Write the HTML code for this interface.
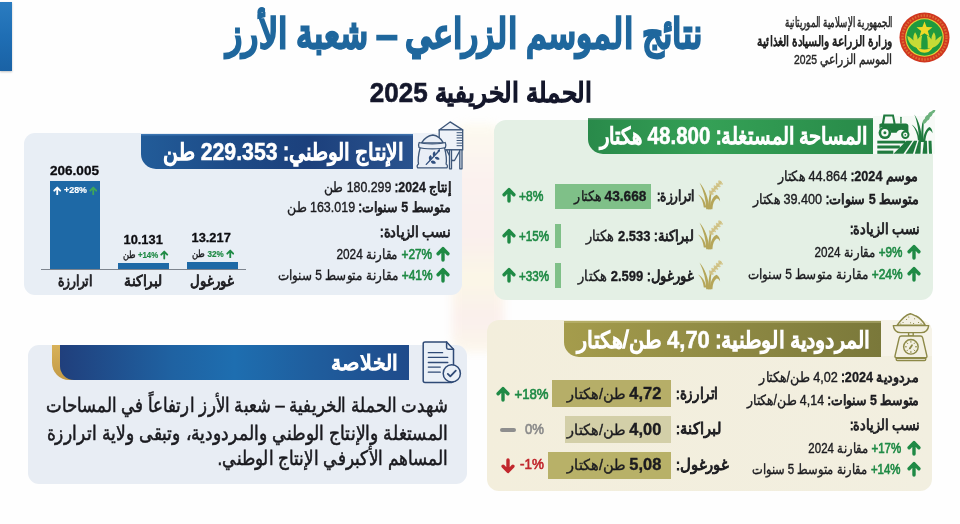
<!DOCTYPE html>
<html lang="ar">
<head>
<meta charset="utf-8">
<title>نتائج الموسم الزراعي – شعبة الأرز</title>
<style>
*{box-sizing:border-box;margin:0;padding:0}
html,body{width:960px;height:524px;overflow:hidden;background:#fefefe}
body{position:relative;font-family:"Liberation Sans",sans-serif;color:#1b1b1f}
.a{position:absolute}
.t{position:absolute;white-space:nowrap;direction:rtl;transform-origin:100% 50%;color:#1b1b1f;-webkit-text-stroke:.38px}
.t b{font-weight:normal;-webkit-text-stroke:.06em}
.t b .n{font-weight:bold;-webkit-text-stroke:.022em}
.p{-webkit-text-stroke:.65px}
.d{font-size:1.05em;letter-spacing:.06em}
.d2{font-size:1.13em;letter-spacing:.04em}
.ar{position:absolute;display:block}
.panel{position:absolute}
</style>
</head>
<body>
<!-- faint watermark behind panels -->
<div class="a" style="left:452px;top:124px;width:52px;height:228px;background:linear-gradient(180deg,#fcf8e6 0%,#faebe6 22%,#f9e6e2 50%,#faf3d8 68%,#f9e6e1 85%,#fbf3e0 100%);opacity:.6;border-radius:14px;filter:blur(4px)"></div>
<!-- left blue tab -->
<div class="a" style="left:0;top:2px;width:12px;height:69px;background:linear-gradient(180deg,#2a7cc0 0%,#1f6eb4 50%,#1a62a5 100%);box-shadow:0 1px 2px rgba(0,0,0,.25)"></div>

<!-- ============ GREEN PANEL ============ -->
<div class="panel" style="left:494px;top:120px;width:438.5px;height:179.5px;border-radius:12px;background:#e4f0e5"></div>
<div class="a" style="left:588px;top:117.5px;width:285px;height:36.5px;border-radius:0 0 0 15px;background:linear-gradient(90deg,#298a4a 0%,#35a056 42%,#319a52 60%,#288a49 100%);box-shadow:inset 0 1.5px 0 rgba(120,160,135,.7)"></div>
<div class="a" style="left:873px;top:116px;width:62px;height:38px;background:#f7faf7"></div>
<div class="a" style="left:554.5px;top:184px;width:96.5px;height:25px;background:#7fc088"></div>
<div class="a" style="left:555px;top:224px;width:5.5px;height:23.5px;background:#7fc088"></div>
<div class="a" style="left:555px;top:263px;width:5.5px;height:24.5px;background:#7fc088"></div>

<!-- ============ BLUE PANEL ============ -->
<div class="panel" style="left:24px;top:133px;width:438px;height:162px;border-radius:11px;background:#e8eef5"></div>
<div class="a" style="left:141px;top:133.5px;width:271.5px;height:35.5px;border-radius:0 0 0 15px;background:linear-gradient(90deg,#225c99 0%,#1d4a86 35%,#1c407c 62%,#2a538e 100%);box-shadow:inset 0 1.5px 0 rgba(80,140,200,.55)"></div>
<div class="a" style="left:412.5px;top:133px;width:49.500px;height:36px;border-radius:0 11px 0 0;background:#eef2f8"></div>
<!-- chart -->
<div class="a" style="left:49.5px;top:181px;width:50.5px;height:88px;background:#1e69a6"></div>
<div class="a" style="left:118px;top:263px;width:51px;height:6px;background:#1e69a6"></div>
<div class="a" style="left:187px;top:262px;width:50.5px;height:7px;background:#1e69a6"></div>
<div class="a" style="left:41px;top:268.6px;width:205px;height:1.2px;background:#7d848e"></div>

<!-- ============ BEIGE PANEL ============ -->
<div class="panel" style="left:487px;top:320px;width:445px;height:170.5px;border-radius:12px;background:linear-gradient(90deg,#f3eedc 0%,#f2efe0 100%)"></div>
<div class="a" style="left:564px;top:320.5px;width:317px;height:36px;border-radius:0 0 0 15px;background:linear-gradient(90deg,#a59c4c 0%,#8f8a44 50%,#7a783a 100%);box-shadow:inset 0 2px 0 rgba(205,200,140,.4)"></div>
<div class="a" style="left:881px;top:320px;width:51px;height:36px;border-radius:0 12px 0 0;background:#f6f3e8"></div>
<div class="a" style="left:552px;top:380px;width:119px;height:27px;background:#b6ae68"></div>
<div class="a" style="left:565px;top:416px;width:106px;height:26.5px;background:#d3cfa8"></div>
<div class="a" style="left:548px;top:452px;width:123px;height:26.500px;background:#b8b168"></div>
<div class="a" style="left:500px;top:427.900px;width:16px;height:4.100px;border-radius:2.100px;background:#8e8e8e"></div>

<!-- ============ SUMMARY PANEL ============ -->
<div class="panel" style="left:28px;top:345px;width:439px;height:139px;border-radius:11px;background:#e8edf4"></div>
<div class="a" style="left:51.800px;top:344.5px;width:44px;height:35.300px;border-radius:0 0 0 17px;background:linear-gradient(180deg,#d8b25a,#c39a45)"></div>
<div class="a" style="left:59.5px;top:344.5px;width:349.5px;height:35px;border-radius:0 0 0 14px;background:linear-gradient(90deg,#203f7c 0%,#1f62a2 32%,#1e6eb0 50%,#1f5e9e 72%,#1f4b8b 100%)"></div>

<!-- emblem -->
<svg class="a" style="left:899px;top:12px" width="51" height="51" viewBox="0 0 51 51">
  <circle cx="25.5" cy="25.5" r="25" fill="#d0361f"/>
  <circle cx="25.5" cy="25.5" r="22" fill="none" stroke="#e0803a" stroke-width="2.4" stroke-dasharray="1.6 1.4" opacity=".75"/>
  <circle cx="25.5" cy="25.5" r="19.3" fill="#e6d23a"/>
  <circle cx="25.5" cy="25.5" r="18.2" fill="#1f9a3e"/>
  <path d="M25.500 9.500l2.100 5.600 5.900.2-4.700 3.600 1.700 5.700-5-3.400-5 3.400 1.700-5.700-4.700-3.600 5.900-.2z" fill="#efd927"/>
  <path d="M22.300 36.500C14.500 36.500 9 31.500 8.300 24c2.700 1 4.700 2.500 6.200 4.600-.5-3.600 0-6.200 1.600-8.400 1.600 2.100 2.500 4.600 2.500 7.300 1-2.100 2.600-3.600 4.600-4.100-1 3.700-1 8.600-.900 13.100z" fill="#c6db36"/>
  <path d="M28.700 36.500c7.800 0 13.300-5 14-12.500-2.700 1-4.700 2.500-6.200 4.600.5-3.600 0-6.200-1.600-8.400-1.600 2.100-2.500 4.600-2.500 7.300-1-2.100-2.600-3.600-4.600-4.100 1 3.700 1 8.600.900 13.100z" fill="#c6db36"/>
  <path d="M16.500 33c1.600 5.300 4.900 7.700 9 7.700s7.400-2.400 9-7.700c-2.100 3.200-5.300 4.600-9 4.600s-6.900-1.400-9-4.600z" fill="#efd927"/>
</svg>

<!-- tractor / field icon -->
<svg class="a" style="left:877px;top:109px" width="60" height="46" viewBox="0 0 60 46">
  <g fill="#1f7a3e">
    <path d="M6.400 5.600h10.400l1.800 8.800h10.200c1.600 0 2.600 1.100 2.600 2.600v6.800h-2.300a5.300 5.300 0 0 0-9.600 0h-5.300a7.300 7.300 0 0 0-11.800-4.200V15l2.500-.8z"/>
    <path d="M8.300 7.400l-1.200 7h9.400l-1.300-7z" fill="#f6faf6"/>
    <rect x="23.300" y="7.700" width="1.300" height="7" rx=".6"/>
    <circle cx="7.900" cy="23.700" r="6.300"/>
    <circle cx="28.300" cy="25.800" r="4.200"/>
    <rect x=".3" y="31.700" width="28" height="2.800"/>
    <rect x=".3" y="36.500" width="22.500" height="3"/>
    <rect x=".3" y="41.600" width="16" height="3.200"/>
    <path d="M29.500 31.700h6L26.500 44.800h-10z"/>
    <path d="M37 31.700h3.300L36 44.800h-7.500z"/>
    <path d="M41.600 31.700h2.400l-.5 13.100h-5.700z"/>
    <path d="M46.900 31.700h3l.4 13.100h-4.800z"/>
    <path d="M51.500 31.700h3l.5 13.100h-3z"/>
    <path d="M42.200 33C41.800 22.500 40.500 13 37.300 5.600c4.700 6.400 7.400 15.700 7.800 27.400z"/>
    <path d="M44 33c0-7 .5-13.500 1.300-19.500l1.400.5c-.4 6.300-.4 12.500-.100 19z"/>
    <path d="M45.800 33c.7-7.500 3.200-13.500 6.700-15 2 1 3 3.500 3 6.300-1-2.300-2.200-3.300-3.300-3.100-2.200 1.800-3.600 6.300-3.900 11.800z"/>
    <path d="M43 31.500c-1-7-3.500-12.800-8.300-16 3.800 4.200 5.800 9.500 6.300 16z"/>
  </g>
  <circle cx="7.900" cy="23.700" r="3.700" fill="#f6faf6"/><circle cx="7.900" cy="23.700" r="1.500" fill="#1f7a3e"/>
  <circle cx="28.300" cy="25.800" r="2.200" fill="#f6faf6"/><circle cx="28.300" cy="25.800" r=".9" fill="#1f7a3e"/>
  <path d="M45.800 15.200c-.8-2.400.2-4.300 2-5.400.2-2 1.500-3.400 3.200-4 .4-1.700 1.700-2.800 3.300-3.200.8-1.300 2.100-1.900 4.100-1.600-.3 1.800-1.200 3-2.700 3.600-.2 1.700-1.200 2.900-2.800 3.600-.2 1.700-1.200 2.900-2.800 3.600-.7 1.900-2.100 3.100-4.300 3.400z" fill="#6db27d"/>
</svg>

<!-- wheat icons (gold) -->
<svg class="a" style="left:698px;top:178px" width="26" height="32" viewBox="0 0 26 32"><g fill="#b5a659">
  <path d="M8.200 31.200C7.900 22 5.900 13 1.500 4.500c5.500 6.500 9 15.500 9.900 26.700z"/>
  <path d="M8.300 29.500c-1-6-3.500-10.500-8.200-13.100 3.400 3.600 5.200 7.600 5.700 13.100z"/>
  <path d="M10 31.200c.200-6 .8-11.200 2-16.400l1.400.5c-.7 5.200-.8 10.200-.5 15.900z"/>
  <path d="M11.600 31.200c.7-7.200 3.300-12.900 7-14.400 2.300 1.200 3.500 3.700 3.500 6.700-1-2.200-2.300-3.200-3.500-3-2.500 1.800-3.900 5.500-4.200 10.700z"/>
  </g>
  <path d="M13 14.800L24.400 2.300" fill="none" stroke="#cfc184" stroke-width="3.500" stroke-linecap="round" stroke-dasharray=".1 3.300"/>
  <path d="M11.700 13.200L22.200 2M14.800 16L25.300 4.600" fill="none" stroke="#d5c88f" stroke-width="1.700" stroke-linecap="round" stroke-dasharray=".1 3.300"/></svg>
<svg class="a" style="left:698px;top:218px" width="26" height="32" viewBox="0 0 26 32"><g fill="#b5a659">
  <path d="M8.200 31.200C7.900 22 5.900 13 1.500 4.500c5.500 6.500 9 15.500 9.900 26.700z"/>
  <path d="M8.300 29.500c-1-6-3.500-10.500-8.200-13.100 3.400 3.600 5.200 7.600 5.700 13.100z"/>
  <path d="M10 31.200c.200-6 .8-11.200 2-16.400l1.400.5c-.7 5.200-.8 10.200-.5 15.900z"/>
  <path d="M11.600 31.200c.7-7.200 3.300-12.900 7-14.400 2.300 1.200 3.500 3.700 3.500 6.700-1-2.200-2.300-3.200-3.500-3-2.500 1.800-3.900 5.500-4.200 10.700z"/>
  </g>
  <path d="M13 14.800L24.400 2.300" fill="none" stroke="#cfc184" stroke-width="3.500" stroke-linecap="round" stroke-dasharray=".1 3.300"/>
  <path d="M11.700 13.200L22.200 2M14.800 16L25.300 4.600" fill="none" stroke="#d5c88f" stroke-width="1.700" stroke-linecap="round" stroke-dasharray=".1 3.300"/></svg>
<svg class="a" style="left:698px;top:258px" width="26" height="32" viewBox="0 0 26 32"><g fill="#b5a659">
  <path d="M8.200 31.200C7.900 22 5.900 13 1.500 4.500c5.500 6.500 9 15.500 9.900 26.700z"/>
  <path d="M8.300 29.500c-1-6-3.500-10.500-8.200-13.100 3.400 3.600 5.200 7.600 5.700 13.100z"/>
  <path d="M10 31.200c.200-6 .8-11.200 2-16.400l1.400.5c-.7 5.200-.8 10.200-.5 15.900z"/>
  <path d="M11.600 31.200c.7-7.200 3.300-12.900 7-14.400 2.300 1.200 3.500 3.700 3.500 6.700-1-2.200-2.300-3.200-3.500-3-2.500 1.800-3.900 5.500-4.200 10.700z"/>
  </g>
  <path d="M13 14.800L24.400 2.300" fill="none" stroke="#cfc184" stroke-width="3.500" stroke-linecap="round" stroke-dasharray=".1 3.300"/>
  <path d="M11.700 13.200L22.200 2M14.800 16L25.300 4.600" fill="none" stroke="#d5c88f" stroke-width="1.700" stroke-linecap="round" stroke-dasharray=".1 3.300"/></svg>


<!-- silo + sack icon -->
<svg class="a" style="left:416px;top:120px" width="48" height="51" viewBox="0 0 48 51" fill="none" stroke="#3d5679" stroke-width="1.300" stroke-linejoin="round" stroke-linecap="round">
  <path d="M23.200 9.900L34.100 1.900 46.700 9.900z" fill="#eef2f8"/>
  <rect x="23.200" y="9.900" width="23.500" height="20" fill="#eef2f8"/>
  <path d="M41 12.700h5.500M41 15.300h5.500M41 17.900h5.500M41 20.500h5.500M41 23.100h5.500M41 25.700h5.500" stroke-width="1"/>
  <path d="M30.600 29.900h13.800L38.500 40.500h-2.500z" fill="#eef2f8"/>
  <rect x="33.500" y="29.900" width="2" height="18.900" fill="#eef2f8"/>
  <rect x="43.800" y="29.900" width="2.200" height="18.900" fill="#eef2f8"/>
  <path d="M4.200 27.500c-1.500 6-2.700 12-1.700 16.500-1.500 1-1.800 2.700-.8 3.900h29.200c1-1.300.6-3-.8-3.900 1-5.500-.200-11-1.600-16.500z" fill="#e9eef6"/>
  <path d="M5.500 22.800C8 19 12.500 15.500 16.900 15c4.500.5 8.300 4 10.500 7.800z" fill="#e9eef6"/>
  <path d="M3.200 22.500c4 1.700 22 1.700 26 0 .8 1.600.8 3.400.2 5-4.500 1.700-21.500 1.700-26.400 0-.6-1.600-.6-3.400.2-5z" fill="#e9eef6"/>
  <g transform="translate(16.500 37.500) scale(1.250) translate(-16.500 -37.500)">
  <path d="M11.500 43l9-9.500" stroke="#2f4e7e" stroke-width="1.100"/>
  <path d="M14.500 40c-1.500-1.500-1.200-3.500.5-4.500 1.500 1.400 1.200 3.400-.5 4.500zM15.200 40.400c.3 2 2.200 2.700 4 1.700-.4-2-2.300-2.700-4-1.700zM17.500 36.800c-1.400-1.500-1-3.400.6-4.300 1.400 1.400 1 3.300-.6 4.300zM18.300 37.300c.4 1.900 2.200 2.500 3.900 1.500-.5-1.900-2.300-2.500-3.900-1.500zM20.600 33.700c-.600-1.500.2-2.800 1.800-3.100.5 1.500-.2 2.700-1.800 3.100z" fill="#2f4e7e" stroke="none"/>
  </g>
</svg>

<!-- kitchen scale icon -->
<svg class="a" style="left:892px;top:312px" width="38" height="50" viewBox="0 0 38 50" fill="none" stroke="#8d8948" stroke-width="1.400" stroke-linejoin="round" stroke-linecap="round">
  <path d="M5.200 13.200C8.500 8.500 13.500 3 18.300 1.800c2.500.4 3.600 1.900 5.700 2.200 4 2 7 5.500 9.200 9.200z" fill="#f3f0e2"/>
  <path d="M11 10.500h.1M14.500 7.500h.1M18.500 10.800h.1M22.500 6.800h.1M26.500 10.500h.1M21.500 11.500h.1M16.700 5h.1M29 11.800h.1M8.700 12h.1" stroke-width="1.100"/>
  <path d="M1.300 13.600h35.400c-.6 4.500-3.500 7-7.500 7H8.800c-4 0-6.900-2.500-7.500-7z" fill="#f3f0e2"/>
  <rect x="16.600" y="20.600" width="4.600" height="3.400" fill="#f3f0e2"/>
  <path d="M9.500 24h18.900c1.200 0 2 .6 2.300 1.800l4.200 18c.3 1.200-.4 2-1.600 2H4.600c-1.200 0-1.900-.8-1.600-2l4.200-18C7.500 24.600 8.300 24 9.500 24z" fill="#f3f0e2"/>
  <path d="M4.200 46.200h29.500v1c0 .8-.5 1.300-1.300 1.300H5.500c-.8 0-1.300-.5-1.300-1.300z" fill="#f3f0e2"/>
  <circle cx="18.900" cy="34.800" r="7.300" fill="#f3f0e2"/>
  <path d="M18.900 29v1.300M18.900 39.300v1.300M13.100 34.800h1.300M23.400 34.800h1.300M14.800 30.700l.9.900M22.100 38l.9.900M23 30.700l-.9.900M15.700 38l-.9.900" stroke-width="1"/>
  <path d="M17.800 36.400l2.200-3.200" stroke-width="1.800"/>
</svg>

<!-- document + check icon -->
<svg class="a" style="left:422px;top:340px" width="40" height="45" viewBox="0 0 40 45" fill="none" stroke="#2f4a76" stroke-width="1.500" stroke-linejoin="round" stroke-linecap="round">
  <path d="M3 1.900h21.600l6.900 7.400v31.500c0 1-.7 1.700-1.700 1.700H3c-1 0-1.800-.7-1.800-1.700V3.600c0-1 .8-1.700 1.800-1.700z" fill="#eaf0f7"/>
  <path d="M24.600 1.900v5.700c0 1 .7 1.700 1.700 1.700h5.200"/>
  <path d="M6.300 12.700h14.300M6.300 17.300h19.500M6.300 22.500h19.500M6.300 27.100h12M6.300 32.200h12" stroke-width="1.300"/>
  <circle cx="29.800" cy="33.400" r="8.600" fill="#eaf0f7"/>
  <path d="M25.800 33.900l2.500 2.500 5.500-5.800" stroke-width="1.800"/>
</svg>

<!-- small arrows -->
<svg class="ar" style="left:906.5px;top:244.3px" width="14.0" height="16.0" viewBox="0 0 14 16"><path d="M7 14.100V3.200M2.100 7.700L7 2.600l4.900 5.100" fill="none" stroke="#1f8a45" stroke-width="3.4" stroke-linecap="round" stroke-linejoin="round"/></svg>
<svg class="ar" style="left:906.5px;top:265.8px" width="14.0" height="16.0" viewBox="0 0 14 16"><path d="M7 14.100V3.200M2.100 7.700L7 2.600l4.900 5.100" fill="none" stroke="#1f8a45" stroke-width="3.4" stroke-linecap="round" stroke-linejoin="round"/></svg>
<svg class="ar" style="left:502.3px;top:187.4px" width="14.0" height="16.0" viewBox="0 0 14 16"><path d="M7 14.100V3.200M2.100 7.700L7 2.600l4.900 5.100" fill="none" stroke="#1f8a45" stroke-width="3.4" stroke-linecap="round" stroke-linejoin="round"/></svg>
<svg class="ar" style="left:502.3px;top:227.7px" width="14.0" height="16.0" viewBox="0 0 14 16"><path d="M7 14.100V3.200M2.100 7.700L7 2.600l4.900 5.100" fill="none" stroke="#1f8a45" stroke-width="3.4" stroke-linecap="round" stroke-linejoin="round"/></svg>
<svg class="ar" style="left:502.3px;top:266.9px" width="14.0" height="16.0" viewBox="0 0 14 16"><path d="M7 14.100V3.200M2.100 7.700L7 2.600l4.900 5.100" fill="none" stroke="#1f8a45" stroke-width="3.4" stroke-linecap="round" stroke-linejoin="round"/></svg>
<svg class="ar" style="left:436px;top:246.3px" width="14" height="16.0" viewBox="0 0 14 16"><path d="M7 14.100V3.200M2.100 7.700L7 2.600l4.900 5.100" fill="none" stroke="#1f8a45" stroke-width="3.4" stroke-linecap="round" stroke-linejoin="round"/></svg>
<svg class="ar" style="left:436px;top:267.3px" width="14" height="16.0" viewBox="0 0 14 16"><path d="M7 14.100V3.200M2.100 7.700L7 2.600l4.900 5.100" fill="none" stroke="#1f8a45" stroke-width="3.4" stroke-linecap="round" stroke-linejoin="round"/></svg>
<svg class="ar" style="left:53px;top:185.7px" width="8.5" height="9.7" viewBox="0 0 14 16"><path d="M7 14.100V3.200M2.100 7.700L7 2.600l4.900 5.100" fill="none" stroke="#ffffff" stroke-width="3" stroke-linecap="round" stroke-linejoin="round"/></svg>
<svg class="ar" style="left:88.5px;top:185.7px" width="8.5" height="9.7" viewBox="0 0 14 16"><path d="M7 14.100V3.200M2.100 7.700L7 2.600l4.900 5.100" fill="none" stroke="#3fa65a" stroke-width="3" stroke-linecap="round" stroke-linejoin="round"/></svg>
<svg class="ar" style="left:160px;top:250.2px" width="8.5" height="9.7" viewBox="0 0 14 16"><path d="M7 14.100V3.200M2.100 7.700L7 2.600l4.900 5.100" fill="none" stroke="#1f8a45" stroke-width="3" stroke-linecap="round" stroke-linejoin="round"/></svg>
<svg class="ar" style="left:225.5px;top:248.7px" width="8.5" height="9.7" viewBox="0 0 14 16"><path d="M7 14.100V3.200M2.100 7.700L7 2.600l4.900 5.100" fill="none" stroke="#1f8a45" stroke-width="3" stroke-linecap="round" stroke-linejoin="round"/></svg>
<svg class="ar" style="left:906.5px;top:440.0px" width="14.0" height="16.0" viewBox="0 0 14 16"><path d="M7 14.100V3.200M2.100 7.700L7 2.600l4.900 5.100" fill="none" stroke="#1f8a45" stroke-width="3.4" stroke-linecap="round" stroke-linejoin="round"/></svg>
<svg class="ar" style="left:906.5px;top:461.0px" width="14.0" height="16.0" viewBox="0 0 14 16"><path d="M7 14.100V3.200M2.100 7.700L7 2.600l4.900 5.100" fill="none" stroke="#1f8a45" stroke-width="3.4" stroke-linecap="round" stroke-linejoin="round"/></svg>
<svg class="ar" style="left:495.8px;top:386.4px" width="14.0" height="16.0" viewBox="0 0 14 16"><path d="M7 14.100V3.200M2.100 7.700L7 2.600l4.900 5.100" fill="none" stroke="#1f8a45" stroke-width="3.4" stroke-linecap="round" stroke-linejoin="round"/></svg>
<svg class="ar" style="left:500.7px;top:457.6px" width="14.0" height="16.0" viewBox="0 0 14 16"><path d="M7 1.900v10.900M2.100 8.300L7 13.400l4.900-5.100" fill="none" stroke="#c1272d" stroke-width="3.4" stroke-linecap="round" stroke-linejoin="round"/></svg>

<div class="t" style="right:67.5px;top:11.7px;height:21.6px;line-height:21.6px;font-size:13.5px;transform:scaleX(0.617);color:#262626;-webkit-text-stroke:.5px">الجمهورية الإسلامية الموريتانية</div>
<div class="t" style="right:67.5px;top:30.7px;height:21.6px;line-height:21.6px;font-size:13.5px;transform:scaleX(0.766);color:#1c1c1c"><b>وزارة الزراعة والسيادة الغذائية</b></div>
<div class="t" style="right:67.5px;top:49.2px;height:21.6px;line-height:21.6px;font-size:13.5px;transform:scaleX(0.767);color:#262626;-webkit-text-stroke:.45px">الموسم الزراعي 2025</div>
<div class="t" style="right:258px;top:1.7px;height:65.6px;line-height:65.6px;font-size:41.0px;transform:scaleX(0.819);color:#1f679d;-webkit-text-stroke:.9px"><b style="-webkit-text-stroke:0.072em">نتائج الموسم الزراعي – شعبة الأرز</b></div>
<div class="t" style="right:368px;top:70.9px;height:43.2px;line-height:43.2px;font-size:27.0px;transform:scaleX(0.918);color:#14172b;-webkit-text-stroke:.7px"><b style="-webkit-text-stroke:0.064em">الحملة الخريفية <span class="d"><span class="n">2025</span></span></b></div>
<div class="t" style="right:92.5px;top:117.6px;height:36.8px;line-height:36.8px;font-size:23.0px;transform:scaleX(0.852);color:#fff"><b>المساحة المستغلة: <span class="d"><span class="n">48.800</span></span> هكتار</b></div>
<div class="t" style="right:41px;top:164.8px;height:22.4px;line-height:22.4px;font-size:14px;transform:scaleX(0.905);"><b>موسم <span class="n">2024</span>:</b> 44.864 هكتار</div>
<div class="t" style="right:41px;top:187.8px;height:22.4px;line-height:22.4px;font-size:14px;transform:scaleX(0.903);"><b>متوسط <span class="n">5</span> سنوات:</b> 39.400 هكتار</div>
<div class="t" style="right:41px;top:218.4px;height:23.2px;line-height:23.2px;font-size:14.5px;transform:scaleX(0.852);"><b>نسب الزيادة:</b></div>
<div class="t" style="right:57.5px;top:241.3px;height:22.4px;line-height:22.4px;font-size:14px;transform:scaleX(0.835);"><span dir="ltr" class="p" style="color:#1f8a45">+9%</span> مقارنة 2024</div>
<div class="t" style="right:57.5px;top:262.8px;height:22.4px;line-height:22.4px;font-size:14px;transform:scaleX(0.852);"><span dir="ltr" class="p" style="color:#1f8a45">+24%</span> مقارنة متوسط 5 سنوات</div>
<div class="t" style="right:266px;top:184.0px;height:24.0px;line-height:24.0px;font-size:15px;transform:scaleX(0.804);"><b>اترارزة:</b></div>
<div class="t" style="right:314px;top:185.2px;height:21.6px;line-height:21.6px;font-size:13.5px;transform:scaleX(0.897);"><b><span class="d2"><span class="n">43.668</span></span></b> هكتار</div>
<div class="t" style="right:266px;top:224.0px;height:24.0px;line-height:24.0px;font-size:15px;transform:scaleX(0.866);"><b>لبراكنة: <span class="n">2.533</span></b> هكتار</div>
<div class="t" style="right:266px;top:264.0px;height:24.0px;line-height:24.0px;font-size:15px;transform:scaleX(0.870);"><b>غورغول: <span class="n">2.599</span></b> هكتار</div>
<div class="t" style="right:417px;top:184.8px;height:22.4px;line-height:22.4px;font-size:14px;transform:scaleX(0.857);color:#1f8a45"><span dir="ltr" class="p">+8%</span></div>
<div class="t" style="right:411px;top:224.8px;height:22.4px;line-height:22.4px;font-size:14px;transform:scaleX(0.833);color:#1f8a45"><span dir="ltr" class="p">+15%</span></div>
<div class="t" style="right:411px;top:264.8px;height:22.4px;line-height:22.4px;font-size:14px;transform:scaleX(0.833);color:#1f8a45"><span dir="ltr" class="p">+33%</span></div>
<div class="t" style="right:557px;top:133.6px;height:36.8px;line-height:36.8px;font-size:23.0px;transform:scaleX(0.881);color:#fff"><b>الإنتاج الوطني: <span class="d"><span class="n">229.353</span></span> طن</b></div>
<div class="t" style="right:509px;top:176.3px;height:22.4px;line-height:22.4px;font-size:14px;transform:scaleX(0.884);"><b>إنتاج <span class="n">2024</span>:</b> 180.299 طن</div>
<div class="t" style="right:509px;top:196.3px;height:22.4px;line-height:22.4px;font-size:14px;transform:scaleX(0.892);"><b>متوسط <span class="n">5</span> سنوات:</b> 163.019 طن</div>
<div class="t" style="right:510px;top:220.9px;height:23.2px;line-height:23.2px;font-size:14.5px;transform:scaleX(0.864);"><b>نسب الزيادة:</b></div>
<div class="t" style="right:527.5px;top:243.3px;height:22.4px;line-height:22.4px;font-size:14px;transform:scaleX(0.846);"><span dir="ltr" class="p" style="color:#1f8a45">+27%</span> مقارنة 2024</div>
<div class="t" style="right:527.5px;top:264.3px;height:22.4px;line-height:22.4px;font-size:14px;transform:scaleX(0.852);"><span dir="ltr" class="p" style="color:#1f8a45">+41%</span> مقارنة متوسط 5 سنوات</div>
<div class="t" style="right:861px;top:160.6px;height:20.8px;line-height:20.8px;font-size:13px;transform:scaleX(1.043);color:#0c0c10"><b><span class="n">206.005</span></b></div>
<div class="t" style="right:873px;top:183.7px;height:13.6px;line-height:13.6px;font-size:8.5px;transform:scaleX(1.043);color:#fff"><b><span dir="ltr" class="p"><span class="n">+28%</span></span></b></div>
<div class="t" style="right:797.5px;top:229.6px;height:20.8px;line-height:20.8px;font-size:13px;transform:scaleX(0.987);color:#0c0c10"><b><span class="n">10.131</span></b></div>
<div class="t" style="right:729px;top:228.1px;height:20.8px;line-height:20.8px;font-size:13px;transform:scaleX(0.987);color:#0c0c10"><b><span class="n">13.217</span></b></div>
<div class="t" style="right:802px;top:247.4px;height:15.2px;line-height:15.2px;font-size:9.5px;transform:scaleX(0.826);"><b><span dir="ltr" class="p" style="color:#1f8a45"><span class="n">+14%</span></span></b> طن</div>
<div class="t" style="right:736px;top:245.9px;height:15.2px;line-height:15.2px;font-size:9.5px;transform:scaleX(0.850);"><b><span dir="ltr" class="p" style="color:#1f8a45"><span class="n">32%</span></span></b> طن</div>
<div class="t" style="right:868px;top:269.0px;height:24.0px;line-height:24.0px;font-size:15px;transform:scaleX(0.821);"><b>اترارزة</b></div>
<div class="t" style="right:797.5px;top:269.0px;height:24.0px;line-height:24.0px;font-size:15px;transform:scaleX(0.917);"><b>لبراكنة</b></div>
<div class="t" style="right:726px;top:269.0px;height:24.0px;line-height:24.0px;font-size:15px;transform:scaleX(0.880);"><b>غورغول</b></div>
<div class="t" style="right:90px;top:321.6px;height:36.8px;line-height:36.8px;font-size:23.0px;transform:scaleX(0.909);color:#fff"><b>المردودية الوطنية: <span class="d"><span class="n">4,70</span></span> طن/هكتار</b></div>
<div class="t" style="right:41px;top:365.8px;height:22.4px;line-height:22.4px;font-size:14px;transform:scaleX(0.902);"><b>مردودية <span class="n">2024</span>:</b> 4,02 طن/هكتار</div>
<div class="t" style="right:41px;top:388.8px;height:22.4px;line-height:22.4px;font-size:14px;transform:scaleX(0.888);"><b>متوسط <span class="n">5</span> سنوات:</b> 4,14 طن/هكتار</div>
<div class="t" style="right:41px;top:413.9px;height:23.2px;line-height:23.2px;font-size:14.5px;transform:scaleX(0.852);"><b>نسب الزيادة:</b></div>
<div class="t" style="right:59px;top:436.8px;height:22.4px;line-height:22.4px;font-size:14px;transform:scaleX(0.820);"><span dir="ltr" class="p" style="color:#1f8a45">+17%</span> مقارنة 2024</div>
<div class="t" style="right:59px;top:457.8px;height:22.4px;line-height:22.4px;font-size:14px;transform:scaleX(0.819);"><span dir="ltr" class="p" style="color:#1f8a45">+14%</span> مقارنة متوسط 5 سنوات</div>
<div class="t" style="right:243px;top:381.6px;height:24.8px;line-height:24.8px;font-size:15.5px;transform:scaleX(0.837);"><b>اترارزة:</b></div>
<div class="t" style="right:239px;top:417.1px;height:24.8px;line-height:24.8px;font-size:15.5px;transform:scaleX(0.918);"><b>لبراكنة:</b></div>
<div class="t" style="right:232px;top:452.6px;height:24.8px;line-height:24.8px;font-size:15.5px;transform:scaleX(0.929);"><b>غورغول:</b></div>
<div class="t" style="right:299px;top:382.0px;height:24.0px;line-height:24.0px;font-size:15px;transform:scaleX(0.969);"><b><span class="d2"><span class="n">4,72</span></span></b> طن/هكتار</div>
<div class="t" style="right:299px;top:417.5px;height:24.0px;line-height:24.0px;font-size:15px;transform:scaleX(0.969);"><b><span class="d2"><span class="n">4,00</span></span></b> طن/هكتار</div>
<div class="t" style="right:299px;top:453.0px;height:24.0px;line-height:24.0px;font-size:15px;transform:scaleX(0.969);"><b><span class="d2"><span class="n">5,08</span></span></b> طن/هكتار</div>
<div class="t" style="right:412px;top:382.9px;height:23.2px;line-height:23.2px;font-size:14.5px;transform:scaleX(0.908);color:#1f8a45"><span dir="ltr" class="p">+18%</span></div>
<div class="t" style="right:416px;top:417.9px;height:23.2px;line-height:23.2px;font-size:14.5px;transform:scaleX(0.905);color:#8b8b8b"><span dir="ltr" class="p">0%</span></div>
<div class="t" style="right:416px;top:453.4px;height:23.2px;line-height:23.2px;font-size:14.5px;transform:scaleX(0.923);color:#c1272d"><span dir="ltr" class="p">-1%</span></div>
<div class="t" style="right:562.5px;top:345.7px;height:33.6px;line-height:33.6px;font-size:21.0px;transform:scaleX(0.978);color:#fff"><b>الخلاصة</b></div>
<div class="t" style="right:512px;top:389.0px;height:32.0px;line-height:32.0px;font-size:20px;transform:scaleX(0.828);color:#1a1a1f;-webkit-text-stroke:.55px">شهدت الحملة الخريفية – شعبة الأرز ارتفاعاً في المساحات</div>
<div class="t" style="right:512px;top:416.5px;height:32.0px;line-height:32.0px;font-size:20px;transform:scaleX(0.854);color:#1a1a1f;-webkit-text-stroke:.55px">المستغلة والإنتاج الوطني والمردودية، وتبقى ولاية اترارزة</div>
<div class="t" style="right:512px;top:442.0px;height:32.0px;line-height:32.0px;font-size:20px;transform:scaleX(0.841);color:#1a1a1f;-webkit-text-stroke:.55px">المساهم الأكبرفي الإنتاج الوطني.</div>
</body>
</html>
